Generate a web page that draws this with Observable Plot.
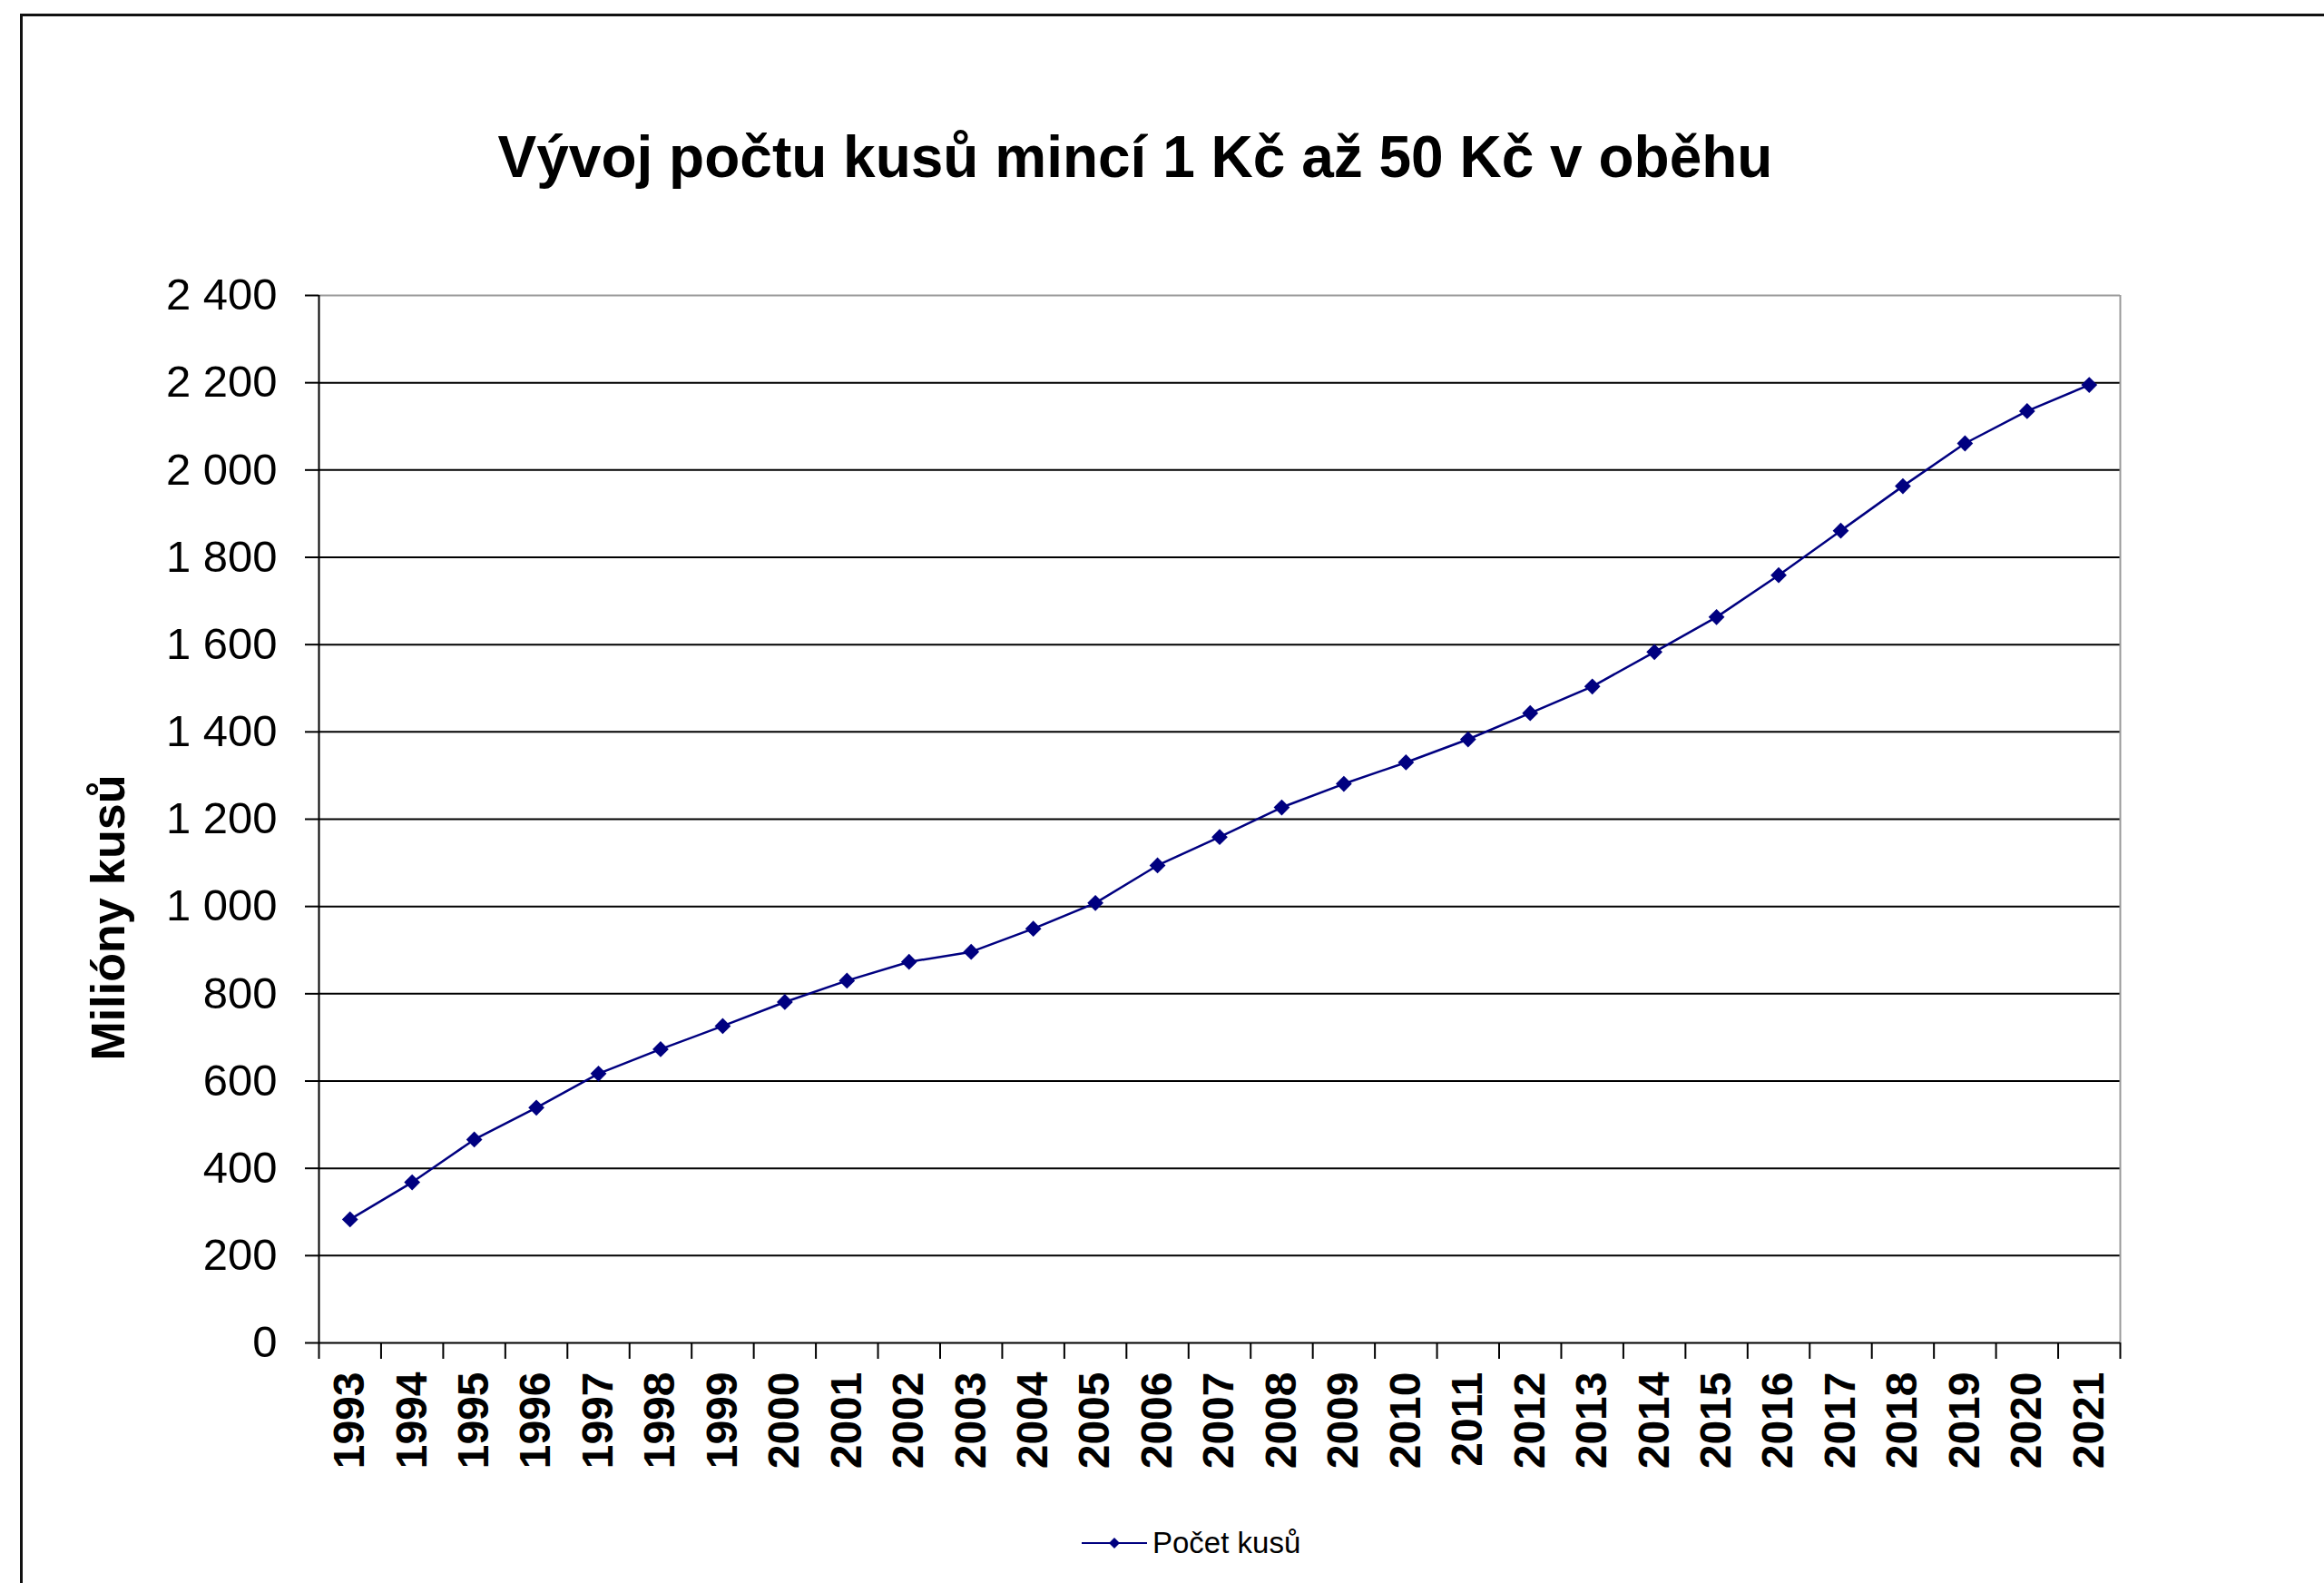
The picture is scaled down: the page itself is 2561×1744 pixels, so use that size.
<!DOCTYPE html>
<html>
<head>
<meta charset="utf-8">
<script src="https://cdn.jsdelivr.net/npm/d3@7"></script>
<script src="https://cdn.jsdelivr.net/npm/@observablehq/plot@0.6"></script>
<style>
  html, body { margin: 0; padding: 0; background: #fff; }
  body { width: 2561px; height: 1744px; position: relative; overflow: hidden;
         font-family: "Liberation Sans", Arial, sans-serif; color: #000; }
  #frame { position: absolute; left: 22px; top: 15px; width: 2700px; height: 1900px;
           border-left: 3px solid #111; border-top: 3px solid #111; box-sizing: border-box; }
  #title { position: absolute; left: 1251px; top: 141px; transform: translateX(-50%);
           font-size: 64px; font-weight: bold; line-height: 1; white-space: nowrap; }
  #ylabel { position: absolute; left: 119px; top: 1011px; transform: translate(-50%, -50%) rotate(-90deg);
            font-size: 52px; font-weight: bold; line-height: 1; white-space: nowrap; }
  #chart { position: absolute; left: 0; top: 240px; }
  #chart g[aria-label="x-axis tick label"] text { font-weight: bold; }
  #legend { position: absolute; left: 1192px; top: 1683px; display: flex; align-items: center;
            font-size: 33px; line-height: 1; white-space: nowrap; }
</style>
</head>
<body>
<div id="frame"></div>
<div id="title">Vývoj počtu kusů mincí 1 Kč až 50 Kč v oběhu</div>
<div id="chart"></div>
<div id="ylabel">Milióny kusů</div>
<div id="legend"></div>
<script>
// ---- data ----
const years = [1993, 1994, 1995, 1996, 1997, 1998, 1999, 2000, 2001, 2002,
               2003, 2004, 2005, 2006, 2007, 2008, 2009, 2010, 2011, 2012,
               2013, 2014, 2015, 2016, 2017, 2018, 2019, 2020, 2021];
const values = [283, 368, 466, 539, 617, 673, 726, 781, 830, 873,
                896, 949, 1008, 1094, 1159, 1227, 1281, 1330, 1383, 1443,
                1504, 1583, 1663, 1759, 1861, 1963, 2061, 2135, 2195];
const yTicks = [0, 200, 400, 600, 800, 1000, 1200, 1400, 1600, 1800, 2000, 2200, 2400];
const seriesName = "Počet kusů";

// ---- chart ----
const data = years.map((year, i) => ({year, value: values[i]}));
const bounds = [...years.map(y => y - 0.5), years[years.length - 1] + 0.5];
const fmt = d => d3.format(",")(d).replace(/,/g, "\u00a0");
const navy = "#000080";

const chart = Plot.plot({
  width: 2561,
  height: 1430,
  marginLeft: 351,
  marginRight: 225,
  marginTop: 85,
  marginBottom: 191,
  style: {fontFamily: "Liberation Sans, Arial, sans-serif", background: "transparent", color: "#000", overflow: "visible"},
  x: {type: "linear", domain: [bounds[0], bounds[bounds.length - 1]]},
  y: {domain: [yTicks[0], yTicks[yTicks.length - 1]]},
  marks: [
    Plot.gridY(yTicks.slice(1, -1), {stroke: "#000", strokeOpacity: 1, strokeWidth: 2}),
    Plot.ruleY([yTicks[yTicks.length - 1]], {stroke: "#9a9a9a", strokeWidth: 2}),
    Plot.ruleX([bounds[bounds.length - 1]], {stroke: "#9a9a9a", strokeWidth: 2}),
    Plot.ruleX([bounds[0]], {stroke: "#000", strokeWidth: 2}),
    Plot.ruleY([yTicks[0]], {stroke: "#000", strokeWidth: 2}),
    Plot.axisY({ticks: yTicks, tickSize: 15, tickPadding: 31, tickFormat: fmt, fontSize: 49, label: null, strokeWidth: 2}),
    Plot.axisX({ticks: bounds, tickSize: 18, tickFormat: () => "", label: null, strokeWidth: 2}),
    Plot.axisX({ticks: years, tickSize: 0, tickPadding: 32, tickRotate: -90, tickFormat: d => String(d),
                fontSize: 48, fontWeight: "bold", label: null}),
    Plot.line(data, {x: "year", y: "value", stroke: navy, strokeWidth: 2.5}),
    Plot.dot(data, {x: "year", y: "value", symbol: "diamond2", r: 8, fill: navy, stroke: "none"})
  ]
});
document.getElementById("chart").appendChild(chart);

// ---- legend ----
const legend = document.getElementById("legend");
legend.innerHTML =
  `<svg width="72" height="20" style="display:block"><line x1="0" y1="10" x2="72" y2="10" stroke="${navy}" stroke-width="2"/>` +
  `<path d="M36 4 L42 10 L36 16 L30 10 Z" fill="${navy}"/></svg>` +
  `<span style="margin-left:6px">${seriesName}</span>`;
</script>
</body>
</html>
